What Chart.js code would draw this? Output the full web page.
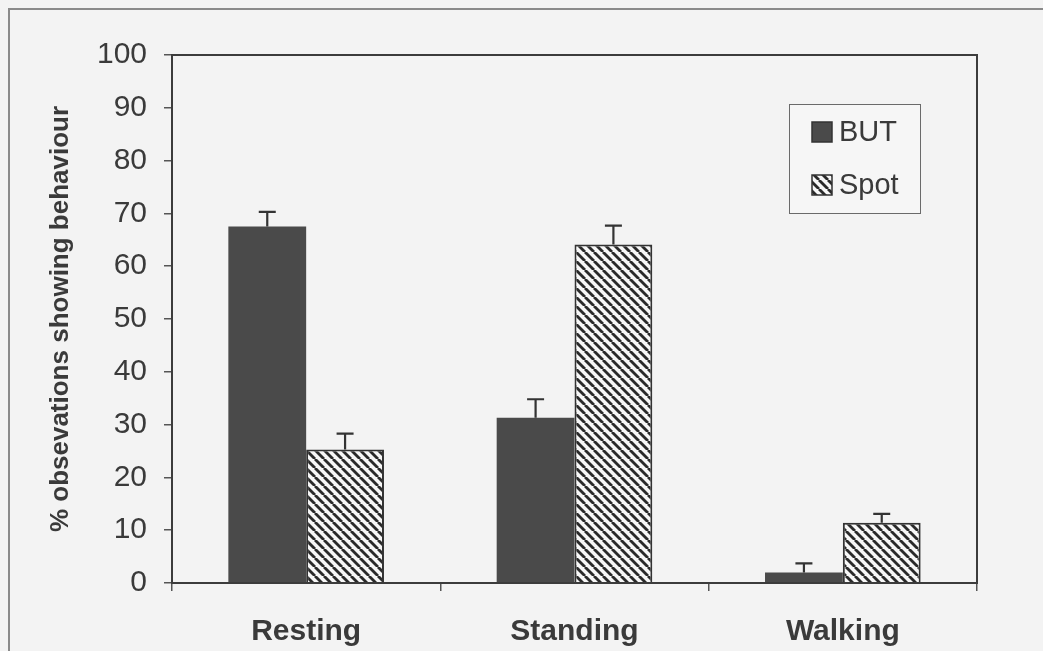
<!DOCTYPE html>
<html>
<head>
<meta charset="utf-8">
<script src="https://cdn.jsdelivr.net/npm/chart.js@4/dist/chart.umd.min.js"></script>
<style>
  html, body { margin: 0; padding: 0; background: #f3f3f3; overflow: hidden; }
  #wrap { position: relative; width: 1043px; height: 651px; }
  #frame { position: absolute; left: 8px; top: 8px; width: 1100px; height: 700px;
           border-left: 2px solid #8a8a8a; border-top: 2px solid #8a8a8a; }
  canvas { position: absolute; left: 0; top: 0; }
</style>
</head>
<body>
<div id="wrap">
  <div id="frame"></div>
  <canvas id="behaviourChart" width="1043" height="651"></canvas>
</div>
<script>
// data
const categories = ['Resting', 'Standing', 'Walking'];
const butValues = [67.5, 31.3, 2.0];
const butErrors = [2.8, 3.5, 1.7];
const spotValues = [25.3, 64.1, 11.4];
const spotErrors = [3.0, 3.6, 1.7];
const yTicks = [0, 10, 20, 30, 40, 50, 60, 70, 80, 90, 100];

const FONT = '"Liberation Sans", Arial, sans-serif';
const INK = '#3a3a3a';

// diagonal hatch for the Spot bars
function makeHatch() {
    const c = document.createElement('canvas');
    c.width = 9; c.height = 9;
    const g = c.getContext('2d');
    g.fillStyle = '#f7f7f7';
    g.fillRect(0, 0, 9, 9);
    g.strokeStyle = '#2a2a2a';
    g.lineWidth = 2.8;
    [-9, 0, 9].forEach(k => {
        g.beginPath();
        g.moveTo(k, 0);
        g.lineTo(k + 9, 9);
        g.stroke();
    });
    return g.createPattern(c, 'repeat');
}
const hatch = makeHatch();

// border round the plot area + error bars + boxed legend
const extras = {
    id: 'extras',
    afterDatasetsDraw(chart) {
        const ctx = chart.ctx;
        const y = chart.scales.y;
        const errs = [butErrors, spotErrors];
        ctx.save();
        ctx.strokeStyle = '#333';
        ctx.lineWidth = 2.2;
        chart.data.datasets.forEach((ds, di) => {
            const meta = chart.getDatasetMeta(di);
            meta.data.forEach((bar, i) => {
                const top = y.getPixelForValue(ds.data[i]);
                const tip = y.getPixelForValue(ds.data[i] + errs[di][i]);
                ctx.beginPath();
                ctx.moveTo(bar.x, top);
                ctx.lineTo(bar.x, tip);
                ctx.moveTo(bar.x - 8.5, tip);
                ctx.lineTo(bar.x + 8.5, tip);
                ctx.stroke();
            });
        });
        ctx.restore();
    },
    afterDraw(chart) {
        const ctx = chart.ctx;
        const a = chart.chartArea;
        ctx.save();
        ctx.strokeStyle = '#3c3c3c';
        ctx.lineWidth = 2;
        ctx.strokeRect(a.left, a.top, a.right - a.left, a.bottom - a.top);

        // legend box, anchored to the top-right of the plot area
        const bx = a.right - 188, by = a.top + 49, bw = 131, bh = 109;
        ctx.fillStyle = '#f6f6f6';
        ctx.fillRect(bx, by, bw, bh);
        ctx.strokeStyle = '#6a6a6a';
        ctx.lineWidth = 1;
        ctx.strokeRect(bx + 0.5, by + 0.5, bw, bh);
        ctx.font = '29px ' + FONT;
        ctx.textBaseline = 'middle';
        chart.data.datasets.forEach((ds, i) => {
            const cy = by + 28 + i * 53;
            const sx = bx + 23;
            ctx.fillStyle = ds.backgroundColor;
            ctx.fillRect(sx, cy - 10, 20, 20);
            ctx.strokeStyle = '#333';
            ctx.lineWidth = 1.5;
            ctx.strokeRect(sx, cy - 10, 20, 20);
            ctx.fillStyle = INK;
            ctx.fillText(ds.label, sx + 27, cy + 1);
        });
        ctx.restore();
    }
};

new Chart(document.getElementById('behaviourChart'), {
    type: 'bar',
    data: {
        labels: categories,
        datasets: [
            { label: 'BUT', data: butValues, backgroundColor: '#4a4a4a', borderColor: '#3a3a3a', borderWidth: 0 },
            { label: 'Spot', data: spotValues, backgroundColor: hatch, borderColor: '#333', borderWidth: 2 }
        ]
    },
    options: {
        responsive: false,
        animation: false,
        devicePixelRatio: 1,
        layout: { padding: { left: 0, top: 55, right: 66, bottom: 0 } },
        datasets: { bar: { categoryPercentage: 0.58, barPercentage: 1.0 } },
        plugins: { legend: { display: false }, tooltip: { enabled: false } },
        scales: {
            x: {
                grid: { offset: true, drawOnChartArea: false, tickLength: 8, color: '#555', lineWidth: 1.5 },
                border: { display: true, color: '#3c3c3c', width: 2 },
                ticks: { color: INK, padding: 23, font: { family: FONT, size: 30, weight: 'bold' } },
                afterFit(scale) { scale.height = 68; }
            },
            y: {
                min: 0,
                max: 100,
                afterBuildTicks(scale) { scale.ticks = yTicks.map(v => ({ value: v })); },
                grid: { drawOnChartArea: false, tickLength: 8, color: '#555', lineWidth: 1.5 },
                border: { display: true, color: '#3c3c3c', width: 2 },
                ticks: { color: INK, padding: 17, font: { family: FONT, size: 30 } },
                title: {
                    display: true,
                    text: '% obsevations showing behaviour',
                    color: INK,
                    padding: { top: 45, bottom: 0 },
                    font: { family: FONT, size: 26, weight: 'bold' }
                },
                afterFit(scale) { scale.width = 172; }
            }
        }
    },
    plugins: [extras]
});
</script>
</body>
</html>
